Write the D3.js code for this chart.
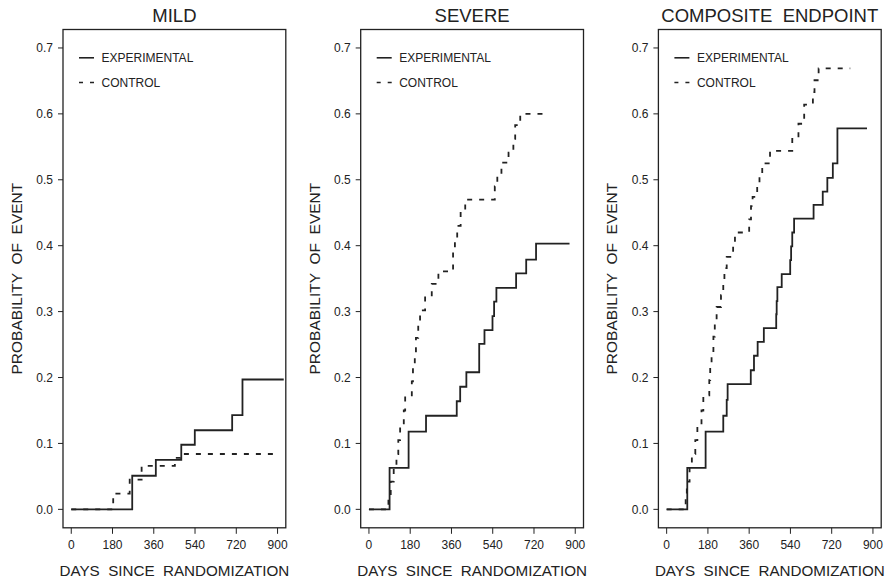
<!DOCTYPE html>
<html>
<head>
<meta charset="utf-8">
<script src="https://cdn.jsdelivr.net/npm/d3@7"></script>
<style>
  body { margin: 0; background: #fff; }
  svg text { font-family: "Liberation Sans", Arial, Helvetica, sans-serif; fill: #222; }
</style>
</head>
<body>
<svg id="chart" width="890" height="580"></svg>
<script>
// panel titles and axis labels
const panelTitles = ["MILD", "SEVERE", "COMPOSITE  ENDPOINT"];
const seriesNames = ["EXPERIMENTAL", "CONTROL"];
const xTicks = [0, 180, 360, 540, 720, 900];
const yTicks = [0.0, 0.1, 0.2, 0.3, 0.4, 0.5, 0.6, 0.7];

// [day, cumulative probability] step points
const mildExperimental = [[0,0],[266,0.051],[369,0.075],[480,0.098],[539,0.12],[702,0.143],[747,0.197],[927,0.197]];
const mildControl = [[0,0],[183,0.024],[255,0.045],[307,0.066],[452,0.078],[477,0.084],[888,0.084]];

const severeExperimental = [[0,0],[90,0.063],[173,0.118],[249,0.142],[383,0.164],[398,0.186],[425,0.208],[481,0.251],[504,0.272],
  [539,0.293],[546,0.315],[556,0.336],[642,0.358],[686,0.379],[729,0.403],[875,0.403]];
const severeControl = [[0,0],[85,0.021],[95,0.042],[108,0.063],[120,0.084],[128,0.105],[136,0.126],[152,0.15],[158,0.173],
  [187,0.194],[192,0.215],[200,0.237],[205,0.26],[215,0.281],[223,0.302],[245,0.323],[274,0.342],[303,0.361],[367,0.39],
  [375,0.41],[385,0.43],[400,0.452],[420,0.47],[549,0.49],[560,0.505],[578,0.526],[609,0.541],[630,0.562],[638,0.583],
  [660,0.6],[786,0.6]];

const compositeExperimental = [[0,0],[90,0.063],[170,0.118],[247,0.142],[262,0.166],[266,0.19],[367,0.211],[381,0.233],
  [397,0.254],[424,0.275],[478,0.296],[480,0.316],[483,0.337],[502,0.357],[539,0.378],[543,0.399],[548,0.42],[556,0.441],
  [641,0.462],[681,0.482],[701,0.503],[725,0.525],[745,0.578],[874,0.578]];
const compositeControl = [[0,0],[83,0.021],[88,0.042],[100,0.063],[110,0.084],[125,0.105],[134,0.126],[152,0.15],[160,0.173],
  [186,0.196],[190,0.218],[196,0.24],[204,0.262],[210,0.285],[218,0.307],[237,0.325],[247,0.345],[252,0.366],[262,0.383],
  [290,0.4],[298,0.42],[360,0.44],[368,0.46],[375,0.474],[395,0.49],[405,0.51],[417,0.525],[451,0.544],[548,0.562],
  [575,0.585],[600,0.614],[638,0.633],[645,0.651],[663,0.669],[801,0.669]];

const panelData = [
  [mildExperimental, mildControl],
  [severeExperimental, severeControl],
  [compositeExperimental, compositeControl]
];

const svg = d3.select("#chart");
const ink = "#222";
const boxW = 222.8, boxTop = 29.5, boxBottom = 527.8;
const dashes = ["none", "5,7"];

// y scale shared, R style 4% padding around 0..0.7
const y = d3.scaleLinear().domain([-0.028, 0.728]).range([boxBottom, boxTop]);

panelData.forEach((series, i) => {
  const left = 63 + i * 297.7;
  const x = d3.scaleLinear().domain([-36, 936]).range([left, left + boxW]);
  const g = svg.append("g");

  // frame
  g.append("rect")
    .attr("x", left).attr("y", boxTop)
    .attr("width", boxW).attr("height", boxBottom - boxTop)
    .attr("fill", "none").attr("stroke", ink).attr("stroke-width", 1.3);

  // y axis ticks
  g.selectAll(".yt").data(yTicks).enter().append("line")
    .attr("x1", left - 5).attr("x2", left)
    .attr("y1", d => y(d)).attr("y2", d => y(d))
    .attr("stroke", ink).attr("stroke-width", 1);
  g.selectAll(".yl").data(yTicks).enter().append("text")
    .attr("x", left - 10).attr("y", d => y(d) + 4.2)
    .attr("text-anchor", "end").attr("font-size", 12)
    .text(d => d.toFixed(1));

  // x axis ticks
  g.selectAll(".xt").data(xTicks).enter().append("line")
    .attr("x1", d => x(d)).attr("x2", d => x(d))
    .attr("y1", boxBottom).attr("y2", boxBottom + 6)
    .attr("stroke", ink).attr("stroke-width", 1);
  g.selectAll(".xl").data(xTicks).enter().append("text")
    .attr("x", d => x(d)).attr("y", 549.3)
    .attr("text-anchor", "middle").attr("font-size", 12)
    .text(d => d);

  // titles
  g.append("text")
    .attr("x", left + boxW / 2).attr("y", 21.7)
    .attr("text-anchor", "middle").attr("font-size", 18.5)
    .style("white-space", "pre")
    .text(panelTitles[i]);
  g.append("text")
    .attr("x", left + boxW / 2).attr("y", 576)
    .attr("text-anchor", "middle").attr("font-size", 15.2)
    .style("white-space", "pre")
    .text("DAYS  SINCE  RANDOMIZATION");
  g.append("text")
    .attr("transform", `translate(${left - 41},${(boxTop + boxBottom) / 2}) rotate(-90)`)
    .attr("text-anchor", "middle").attr("font-size", 15.5)
    .style("white-space", "pre")
    .text("PROBABILITY  OF  EVENT");

  // step curves, control underneath
  const line = d3.line().x(d => x(d[0])).y(d => y(d[1])).curve(d3.curveStepAfter);
  [1, 0].forEach(k => {
    g.append("path")
      .datum(series[k])
      .attr("d", line)
      .attr("fill", "none")
      .attr("stroke", ink)
      .attr("stroke-width", 1.8)
      .attr("stroke-dasharray", dashes[k]);
  });

  // legend
  seriesNames.forEach((name, k) => {
    const ly = 57.8 + k * 24.7;
    g.append("line")
      .attr("x1", left + 16).attr("x2", left + 31)
      .attr("y1", ly).attr("y2", ly)
      .attr("stroke", ink).attr("stroke-width", 1.6)
      .attr("stroke-dasharray", k ? "4,7" : "none");
    g.append("text")
      .attr("x", left + 38.5).attr("y", ly + 4.3)
      .attr("font-size", 12)
      .text(name);
  });
});
</script>
</body>
</html>
